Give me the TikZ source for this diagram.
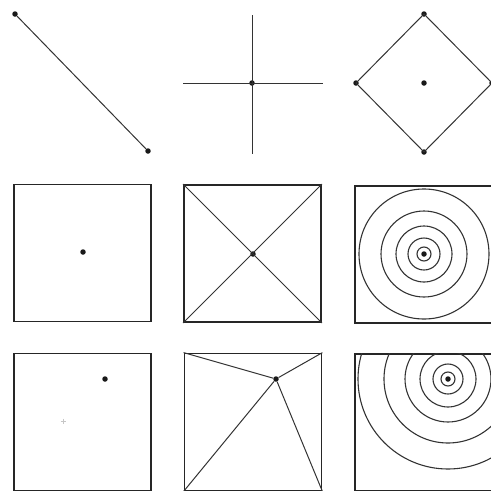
\documentclass[tikz,border=0pt]{standalone}
\usetikzlibrary{positioning}

\begin{document}
\begin{tikzpicture}[x=1pt, y=-1pt, thin]

\tikzstyle{spot} = [circle, fill=black!90, inner sep=0pt, minimum size=5.5pt]
\tikzstyle{box} = [draw=black!85, line width=1.8pt, minimum size=137pt, inner sep=0pt]
\tikzstyle{wire} = [draw=black!80, line width=1pt]
\tikzstyle{ring} = [draw=black!80, line width=1.1pt]

\useasboundingbox (0,0) rectangle (491,491);

% Nodes
\node[spot] (a1) at (15,14) {};
\node[spot] (a2) at (148,151) {};

\node[spot] (c) at (252,83) {};
\coordinate (ct) at (252,15);
\coordinate (cb) at (252,154);
\coordinate (cl) at (183,83);
\coordinate (cr) at (323,83);

\node[spot] (dt) at (424,14) {};
\node[spot] (dl) at (356,83) {};
\node[spot] (db) at (424,152) {};
\node[spot] (dr) at (492,83) {};
\node[spot] (dc) at (424,83) {};

\node[box] (s1) at (82.5,253) {};
\node[box] (s2) at (252.5,253.5) {};
\node[box] (s3) at (423.5,254.5) {};
\node[box] (s4) at (82.5,422) {};
\node[box] (s5) at (253,422) {};
\node[box] (s6) at (423.5,422.5) {};

\node[spot] (p1) at (83,252) {};
\node[spot] (p2) at (253,254) {};
\node[spot] (p3) at (424,254) {};
\node[spot] (p4) at (105,379) {};
\coordinate (ghost) at (63,421);
\node[spot] (p5) at (276,379) {};
\node[spot] (p6) at (448,379) {};

% Connections
\draw[wire] (a1) -- (a2);

\draw[wire] (ct) -- (cb);
\draw[wire] (cl) -- (cr);

\draw[wire] (dt.center) -- (dl.center) -- (db.center) -- (dr.center) -- cycle;

\draw[wire] (s2.north west) -- (s2.south east);
\draw[wire] (s2.north east) -- (s2.south west);

\draw[ring] (p3) circle (7pt) (p3) circle (16pt) (p3) circle (28pt)
  (p3) circle (43pt) (p3) circle (65pt);

\draw[gray!45, line width=0.5pt] (ghost) ++(-2.5,0) -- ++(5,0)
  (ghost) ++(0,-2.5) -- ++(0,5);

\draw[wire] (p5) -- (s5.north west);
\draw[wire] (p5) -- (s5.north east);
\draw[wire] (p5) -- (s5.south west);
\draw[wire] (p5) -- (s5.south east);

\begin{scope}
\clip (s6.north west) rectangle (s6.south east);
\draw[ring] (p6) circle (7pt) (p6) circle (15pt) (p6) circle (28pt)
  (p6) circle (43pt) (p6) circle (64pt) (p6) circle (90pt);
\end{scope}

\end{tikzpicture}
\end{document}
